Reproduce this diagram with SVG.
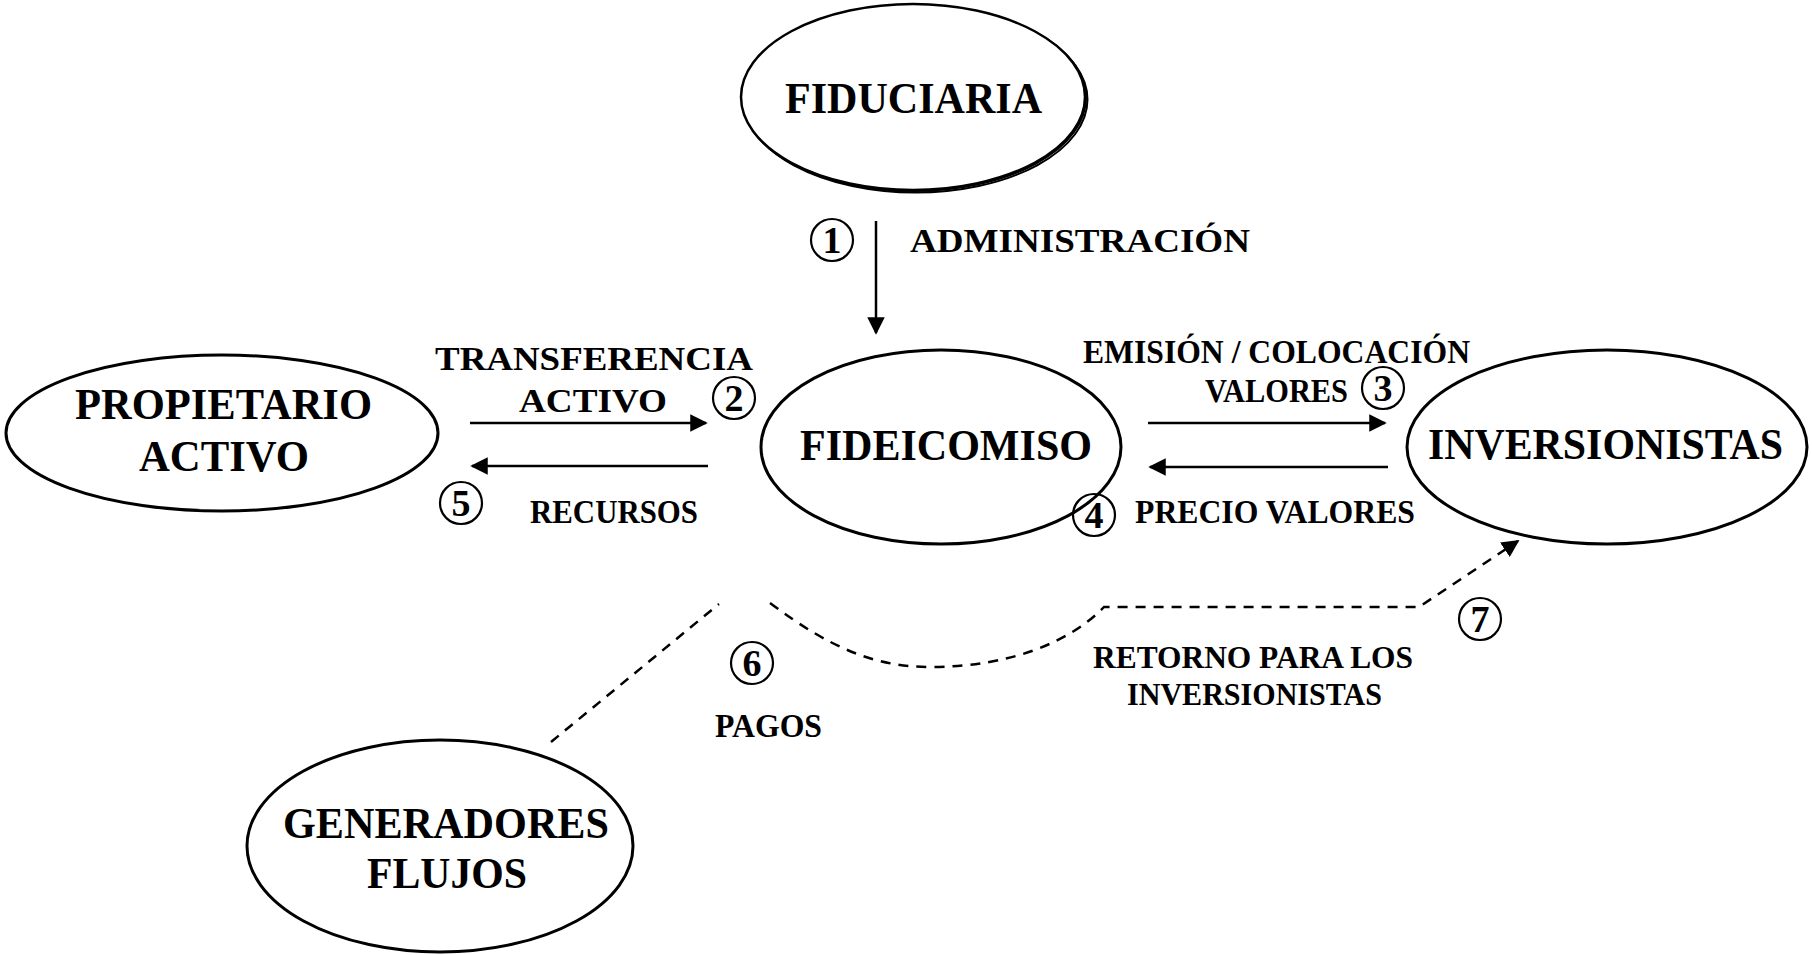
<svg xmlns="http://www.w3.org/2000/svg" width="1812" height="955" viewBox="0 0 1812 955">
<defs>
<style>
.node{fill:#fff;stroke:#000;stroke-width:3}
.t{font-family:"Liberation Serif","Times New Roman",serif;font-weight:bold;fill:#000}
.nt{font-size:45px}
.lt{font-size:33px}
.lt2{font-size:31px}
.num{font-size:38px;text-anchor:middle}
.circ{fill:none;stroke:#000;stroke-width:2.2}
.con{fill:none;stroke:#000;stroke-width:2.5}
.dash{fill:none;stroke:#000;stroke-width:2.5;stroke-dasharray:10 8}
</style>
<marker id="ah2" viewBox="0 0 10 10" refX="9" refY="5" markerWidth="7" markerHeight="7" orient="auto" markerUnits="strokeWidth">
<path d="M0,0 L10,5 L0,10 z" fill="#000"/>
</marker>
</defs>
<rect width="1812" height="955" fill="#fff"/>

<g id="connectors">
<line class="con" x1="876" y1="221" x2="876" y2="333" marker-end="url(#ah2)"/>
<line class="con" x1="470" y1="423" x2="706" y2="423" marker-end="url(#ah2)"/>
<line class="con" x1="708" y1="466" x2="472" y2="466" marker-end="url(#ah2)"/>
<line class="con" x1="1148" y1="423" x2="1385" y2="423" marker-end="url(#ah2)"/>
<line class="con" x1="1388" y1="467" x2="1150" y2="467" marker-end="url(#ah2)"/>
<line class="dash" x1="551" y1="742" x2="719" y2="604"/>
<path class="dash" d="M770,603 C830,648 875,667 930,667 C1010,667 1070,642 1104,607 L1419,607 L1518,541" marker-end="url(#ah2)"/>
</g>

<g id="fiduciaria">
<ellipse cx="915.5" cy="99.5" rx="172" ry="93" fill="none" stroke="#000" stroke-width="2"/>
<ellipse cx="914" cy="98" rx="172" ry="93" fill="none" stroke="#000" stroke-width="2"/>
<ellipse cx="913" cy="97" rx="172" ry="93" fill="#fff" stroke="#000" stroke-width="2.5"/>
<text class="t nt" x="785" y="113" textLength="257" lengthAdjust="spacingAndGlyphs">FIDUCIARIA</text>
</g>

<g id="propietario">
<ellipse class="node" cx="222" cy="433" rx="216" ry="78"/>
<text class="t nt" x="75" y="419" textLength="297" lengthAdjust="spacingAndGlyphs">PROPIETARIO</text>
<text class="t nt" x="139" y="471" textLength="170" lengthAdjust="spacingAndGlyphs">ACTIVO</text>
</g>

<g id="fideicomiso">
<ellipse class="node" cx="941" cy="447" rx="180" ry="97"/>
<text class="t nt" x="800" y="460" textLength="292" lengthAdjust="spacingAndGlyphs">FIDEICOMISO</text>
</g>

<g id="inversionistas">
<ellipse class="node" cx="1607" cy="447" rx="200" ry="97"/>
<text class="t nt" x="1428" y="459" textLength="355" lengthAdjust="spacingAndGlyphs">INVERSIONISTAS</text>
</g>

<g id="generadores">
<ellipse class="node" cx="440" cy="846" rx="193" ry="106"/>
<text class="t nt" x="283" y="838" textLength="326" lengthAdjust="spacingAndGlyphs">GENERADORES</text>
<text class="t nt" x="367" y="888" textLength="160" lengthAdjust="spacingAndGlyphs">FLUJOS</text>
</g>

<g id="labels">
<circle class="circ" cx="832" cy="240" r="21"/>
<text class="t num" x="832" y="253">1</text>
<text class="t lt" x="910" y="252" textLength="340" lengthAdjust="spacingAndGlyphs">ADMINISTRACIÓN</text>

<text class="t lt" x="435" y="370" textLength="318" lengthAdjust="spacingAndGlyphs">TRANSFERENCIA</text>
<text class="t lt" x="519" y="412" textLength="148" lengthAdjust="spacingAndGlyphs">ACTIVO</text>
<circle class="circ" cx="734" cy="398" r="21"/>
<text class="t num" x="734" y="411">2</text>

<circle class="circ" cx="461" cy="503" r="21"/>
<text class="t num" x="461" y="516">5</text>
<text class="t lt" x="530" y="523" textLength="168" lengthAdjust="spacingAndGlyphs">RECURSOS</text>

<text class="t lt" x="1083" y="363" textLength="387" lengthAdjust="spacingAndGlyphs">EMISIÓN / COLOCACIÓN</text>
<text class="t lt" x="1205" y="402" textLength="143" lengthAdjust="spacingAndGlyphs">VALORES</text>
<circle class="circ" cx="1383" cy="388" r="21"/>
<text class="t num" x="1383" y="401">3</text>

<circle class="circ" cx="1094" cy="515" r="21"/>
<text class="t num" x="1094" y="528">4</text>
<text class="t lt" x="1135" y="523" textLength="280" lengthAdjust="spacingAndGlyphs">PRECIO VALORES</text>

<circle class="circ" cx="752" cy="663" r="21"/>
<text class="t num" x="752" y="676">6</text>
<text class="t lt" x="715" y="737" textLength="107" lengthAdjust="spacingAndGlyphs">PAGOS</text>

<circle class="circ" cx="1480" cy="619" r="21"/>
<text class="t num" x="1480" y="632">7</text>
<text class="t lt2" x="1093" y="668" textLength="320" lengthAdjust="spacingAndGlyphs">RETORNO PARA LOS</text>
<text class="t lt2" x="1127" y="705" textLength="255" lengthAdjust="spacingAndGlyphs">INVERSIONISTAS</text>
</g>
</svg>
